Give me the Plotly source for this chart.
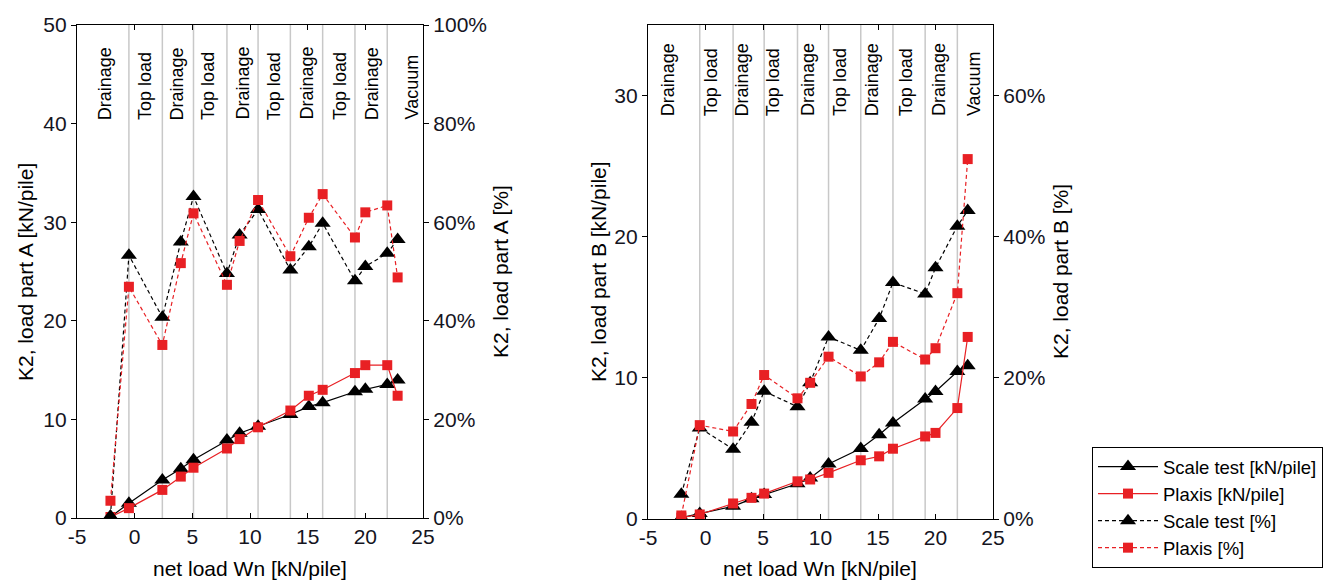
import plotly.graph_objects as go

# ---------------- data ----------------
net_load = [-2.1, -0.5, 2.4, 4.0, 5.1, 8.0, 9.1, 10.7, 13.5, 15.1, 16.3, 19.1, 20.0, 21.9, 22.8]

# Part A (left panel)
a_scale_kn = [0.1, 1.5, 3.85, 5.0, 5.9, 7.9, 8.6, 9.3, 10.5, 11.3, 11.7, 12.8, 13.05, 13.55, 14.0]
a_plaxis_kn = [0.1, 1.0, 2.85, 4.2, 5.1, 7.05, 8.0, 9.2, 10.9, 12.4, 13.0, 14.7, 15.5, 15.5, 12.4]
a_scale_pct = [0.4, 53.3, 40.7, 56.0, 65.2, 49.6, 57.4, 62.6, 50.3, 55.0, 59.8, 48.1, 51.0, 53.7, 56.5]
a_plaxis_pct = [3.5, 46.9, 35.1, 51.7, 61.8, 47.3, 56.2, 64.5, 53.1, 60.9, 65.7, 56.9, 62.0, 63.4, 48.8]

# Part B (right panel)
b_scale_kn = [0.1, 0.39, 0.9, 1.43, 1.73, 2.5, 2.9, 3.9, 5.0, 5.97, 6.8, 8.5, 9.03, 10.45, 10.85]
b_plaxis_kn = [0.1, 0.32, 1.1, 1.5, 1.8, 2.67, 2.8, 3.27, 4.16, 4.44, 4.98, 5.85, 6.1, 7.86, 12.9]
b_scale_pct = [3.5, 12.9, 9.9, 13.7, 18.1, 15.9, 19.3, 25.8, 23.9, 28.4, 33.5, 31.9, 35.6, 41.5, 43.7]
b_plaxis_pct = [0.5, 13.3, 12.4, 16.3, 20.4, 17.1, 19.3, 23.0, 20.2, 22.2, 25.1, 22.6, 24.2, 32.0, 51.0]

# phase boundaries (net load where a new phase starts)
phase_bounds = [-0.5, 2.4, 5.1, 8.0, 10.7, 13.5, 16.3, 19.1, 21.9]
phase_labels = ["Drainage", "Top load", "Drainage", "Top load", "Drainage",
                "Top load", "Drainage", "Top load", "Drainage", "Vacuum"]

x_ticks = [-5, 0, 5, 10, 15, 20, 25]
x_tick_text = ["-5", "0", "5", "10", "15", "20", "25"]
a_kn_ticks = [0, 10, 20, 30, 40, 50]
a_pct_ticks = [0, 20, 40, 60, 80, 100]
b_kn_ticks = [0, 10, 20, 30]
b_pct_ticks = [0, 20, 40, 60]

series_names = ["Scale test [kN/pile]", "Plaxis [kN/pile]", "Scale test [%]", "Plaxis [%]"]

# ---------------- styles ----------------
W, H = 1327, 583
RED = "rgb(232,32,36)"
BLACK = "black"
FONT = "Liberation Sans, Arial, sans-serif"
DASH = "4px,3px"

def px_x(p):
    return p / W

def px_y(p):
    return 1 - p / H

fig = go.Figure()

def add_panel(xa, ya_kn, ya_pct, scale_kn, plaxis_kn, scale_pct, plaxis_pct, show):
    specs = [
        (scale_kn, ya_kn, BLACK, "triangle-up", 14, None, series_names[0]),
        (plaxis_kn, ya_kn, RED, "square", 10, None, series_names[1]),
        (scale_pct, ya_pct, BLACK, "triangle-up", 14, DASH, series_names[2]),
        (plaxis_pct, ya_pct, RED, "square", 10, DASH, series_names[3]),
    ]
    for vals, ya, col, sym, size, dash, name in specs:
        fig.add_trace(go.Scatter(
            x=net_load, y=vals, xaxis=xa, yaxis=ya, name=name, mode="lines+markers",
            line=dict(color=col, width=1.2, dash=dash if dash else "solid"),
            marker=dict(symbol=sym, size=size, color=col, line=dict(width=0)),
            showlegend=show, legendgroup=name,
        ))

# vertical phase lines (drawn below the data)
for xa_name, ya_name in [("x", "y"), ("x2", "y3")]:
    for b in phase_bounds:
        fig.add_shape(type="line", xref=xa_name, yref=ya_name + " domain",
                      x0=b, x1=b, y0=0, y1=1, layer="below",
                      line=dict(color="rgb(200,200,200)", width=1.5))

add_panel("x", "y", "y2", a_scale_kn, a_plaxis_kn, a_scale_pct, a_plaxis_pct, True)
add_panel("x2", "y3", "y4", b_scale_kn, b_plaxis_kn, b_scale_pct, b_plaxis_pct, False)

# phase labels
label_x_a = [-2.5, 0.9, 3.75, 6.35, 9.4, 12.1, 14.95, 17.8, 20.65, 24.05]
label_x_b = [-3.2, 0.5, 3.25, 5.9, 8.95, 11.7, 14.55, 17.45, 20.35, 23.4]
annotations = []
for lx, txt in zip(label_x_a, phase_labels):
    annotations.append(dict(x=lx, xref="x", y=px_y(122), yref="paper", text=txt,
                            textangle=-90, showarrow=False, xanchor="center",
                            yanchor="bottom", font=dict(size=18, family=FONT, color="black")))
for lx, txt in zip(label_x_b, phase_labels):
    annotations.append(dict(x=lx, xref="x2", y=px_y(118), yref="paper", text=txt,
                            textangle=-90, showarrow=False, xanchor="center",
                            yanchor="bottom", font=dict(size=18, family=FONT, color="black")))

# axis titles
title_font = dict(size=21, family=FONT, color="black")
titles = [
    ("K2, load part A [kN/pile]", 25, 272, -90),
    ("K2, load part A [%]", 500, 272, -90),
    ("K2, load part B [kN/pile]", 598, 272, -90),
    ("K2, load part B [%]", 1060, 272, -90),
    ("net load Wn [kN/pile]", 250, 568, 0),
    ("net load Wn [kN/pile]", 820, 568, 0),
]
for txt, xp, yp, ang in titles:
    annotations.append(dict(x=px_x(xp), y=px_y(yp), xref="paper", yref="paper", text=txt,
                            textangle=ang, showarrow=False, xanchor="center", yanchor="middle",
                            font=title_font))

tick_font = dict(size=21, family=FONT, color="rgb(20,20,30)")

def xax(domain, anchor):
    return dict(domain=domain, anchor=anchor, range=[-5, 25],
                tickmode="array", tickvals=x_ticks, ticktext=x_tick_text,
                showline=True, mirror="ticks", linecolor="black", linewidth=1.2,
                ticks="inside", ticklen=5, tickcolor="black", tickfont=tick_font,
                showgrid=False, zeroline=False, automargin=False)

def yax(domain, anchor, rng, tv, suffix="", side="left", overlay=None):
    d = dict(anchor=anchor, range=rng, tickmode="array", tickvals=tv,
             ticktext=[f"{v}{suffix}" for v in tv], side=side,
             showline=True, linecolor="black", linewidth=1.2,
             ticks="outside", ticklen=5, tickcolor="black", tickfont=tick_font,
             showgrid=False, zeroline=False, automargin=False)
    if overlay:
        d["overlaying"] = overlay
    else:
        d["domain"] = domain
    return d

dom_xa = [px_x(77), px_x(423)]
dom_ya = [px_y(518), px_y(25)]
dom_xb = [px_x(648), px_x(993)]
dom_yb = [px_y(519), px_y(25)]

fig.update_layout(
    template="none",
    width=W, height=H,
    margin=dict(l=0, r=0, t=0, b=0, autoexpand=False),
    paper_bgcolor="white", plot_bgcolor="white",
    font=dict(family=FONT, color="black"),
    xaxis=xax(dom_xa, "y"),
    yaxis=yax(dom_ya, "x", [0, 50], a_kn_ticks),
    yaxis2=yax(None, "x", [0, 100], a_pct_ticks, suffix="%", side="right", overlay="y"),
    xaxis2=xax(dom_xb, "y3"),
    yaxis3=yax(dom_yb, "x2", [0, 35], b_kn_ticks),
    yaxis4=yax(None, "x2", [0, 70], b_pct_ticks, suffix="%", side="right", overlay="y3"),
    annotations=annotations,
    showlegend=True,
    legend=dict(x=px_x(1092), y=px_y(447), xanchor="left", yanchor="top",
                bgcolor="white", bordercolor="black", borderwidth=1,
                font=dict(size=18.5, family=FONT, color="black"),
                itemwidth=60, tracegroupgap=0),
)

# remove the browser's default page margin so the figure sits at the window's corner
fig.write_html("out.html", config={"displayModeBar": False},
               post_script="document.body.style.margin='0px';")
